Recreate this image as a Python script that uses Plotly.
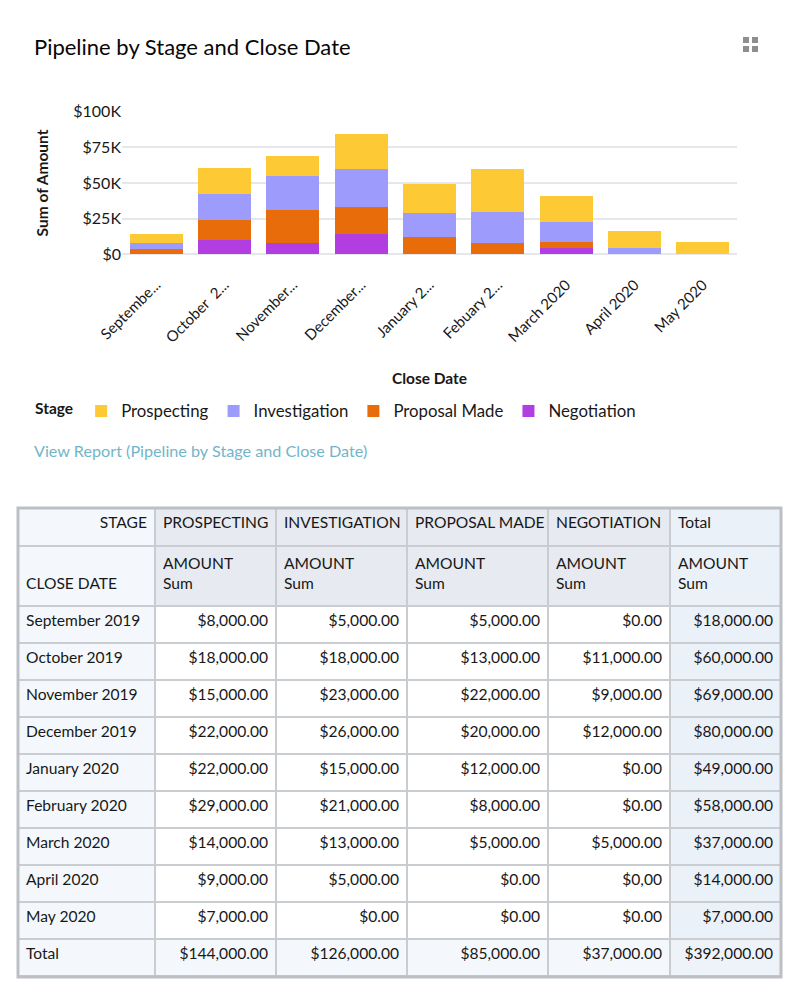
import plotly.graph_objects as go

W, H = 800, 997

# ---------------- chart data (in $) ----------------
axis_labels = ["Septembe...", "October  2...", "November...", "December...", "January 2...",
               "Febuary 2...", "March 2020", "April 2020", "May 2020"]
chart_prospecting = [6500, 18500, 14000, 25000, 20000, 30000, 18000, 11500, 8500]
chart_investigation = [4000, 18000, 24000, 26000, 17000, 22000, 14500, 4500, 0]
chart_proposal = [4000, 14000, 23000, 19000, 12000, 8000, 4000, 0, 0]
chart_negotiation = [0, 10000, 8000, 14500, 0, 0, 4500, 0, 0]

y_tick_vals = [0, 25000, 50000, 75000, 100000]
y_tick_text = ["$0", "$25K", "$50K", "$75K", "$100K"]

# ---------------- table data ----------------
table_months = ["September 2019", "October 2019", "November 2019", "December 2019", "January 2020",
                "February 2020", "March 2020", "April 2020", "May 2020"]
table_prospecting = [8000, 18000, 15000, 22000, 22000, 29000, 14000, 9000, 7000]
table_investigation = [5000, 18000, 23000, 26000, 15000, 21000, 13000, 5000, 0]
table_proposal = [5000, 13000, 22000, 20000, 12000, 8000, 5000, 0, 0]
table_negotiation = [0, 11000, 9000, 12000, 0, 0, 5000, 0, 0]
table_stage_headers = ["STAGE", "PROSPECTING", "INVESTIGATION", "PROPOSAL MADE", "NEGOTIATION", "Total"]
table_measure_headers = ["\u00a0<br>CLOSE DATE", "AMOUNT<br>Sum", "AMOUNT<br>Sum", "AMOUNT<br>Sum",
                         "AMOUNT<br>Sum", "AMOUNT<br>Sum"]
# text exactly as shown in the report (column index, row index) -> text
display_overrides = {(4, 7): "$0,00"}

COLORS = {"Prospecting": "#fdc935", "Investigation": "#9d9cfc",
          "Proposal Made": "#e96c0b", "Negotiation": "#b23ee2"}
FONT = "Lato, 'Open Sans', sans-serif"
TXT = "#181818"


def px_x(x):
    return x / W


def px_y(y):
    return 1 - y / H


def nowrap(s):
    # keep each table text on one line
    return s.replace(" ", "\u00a0")


fig = go.Figure()

series = [("Negotiation", chart_negotiation), ("Proposal Made", chart_proposal),
          ("Investigation", chart_investigation), ("Prospecting", chart_prospecting)]
for name, vals in series:
    fig.add_trace(go.Bar(x=axis_labels, y=vals, name=name, marker_color=COLORS[name],
                         marker_line_width=0))


def money(v):
    return "${:,.2f}".format(v)


row_totals = [a + b + c + d for a, b, c, d in zip(table_prospecting, table_investigation,
                                                   table_proposal, table_negotiation)]
value_cols = [table_prospecting, table_investigation, table_proposal, table_negotiation, row_totals]

columns = [[nowrap(m) for m in table_months] + ["Total"]]
for ci, col in enumerate(value_cols, start=1):
    texts = [money(v) for v in col] + [money(sum(col))]
    for (c, r), t in display_overrides.items():
        if c == ci:
            texts[r] = t
    columns.append(texts)

nrows = len(columns[0])
LIGHT = "#f4f8fd"
HEAD = "#e7ebf1"
TOTALCOL = "#ebf1f9"
LINE = dict(color="#c9ccd0", width=2)
TFONT = dict(family=FONT, size=15.6, color=TXT)
col_widths = [137, 121, 131, 141, 122, 111]

# header block (two header rows)
fig.add_trace(go.Table(
    domain=dict(x=[px_x(18), px_x(781)], y=[px_y(606), px_y(508)]),
    columnwidth=col_widths,
    header=dict(values=[nowrap(h) for h in table_stage_headers],
                align=["right", "left", "left", "left", "left", "left"],
                fill_color=[LIGHT, HEAD, HEAD, HEAD, HEAD, TOTALCOL],
                line=LINE, font=TFONT, height=38),
    cells=dict(values=[[nowrap(v).replace("\u00a0<br>\u00a0", "\u00a0<br>").replace("<br>\u00a0", "<br>")]
                       for v in table_measure_headers], align="left",
               fill_color=[LIGHT, HEAD, HEAD, HEAD, HEAD, TOTALCOL],
               line=LINE, font=TFONT, height=60),
))

# body block (first data row drawn as this block's header row)
body_fill = [[LIGHT] * (nrows - 1)]
for ci in range(1, 5):
    body_fill.append(["#ffffff"] * (nrows - 2) + [LIGHT])
body_fill.append([TOTALCOL] * (nrows - 2) + ["#eef3fa"])
fig.add_trace(go.Table(
    domain=dict(x=[px_x(18), px_x(781)], y=[px_y(978), px_y(606)]),
    columnwidth=col_widths,
    header=dict(values=[c[0] for c in columns],
                align=["left", "right", "right", "right", "right", "right"],
                fill_color=[LIGHT, "#ffffff", "#ffffff", "#ffffff", "#ffffff", TOTALCOL],
                line=LINE, font=TFONT, height=37),
    cells=dict(values=[c[1:] for c in columns],
               align=["left", "right", "right", "right", "right", "right"],
               fill_color=body_fill, line=LINE, font=TFONT, height=37),
))

shapes = []
# table outer frame
shapes.append(dict(type="rect", xref="paper", yref="paper", x0=px_x(18), x1=px_x(781),
                   y0=px_y(977), y1=px_y(508), line=dict(color="#bcbfc3", width=3),
                   fillcolor="rgba(0,0,0,0)", layer="above"))
# expand icon
for (x0, y0) in [(743, 37), (752, 37), (743, 46), (752, 46)]:
    shapes.append(dict(type="rect", xref="paper", yref="paper", x0=px_x(x0), x1=px_x(x0 + 6),
                       y0=px_y(y0 + 6), y1=px_y(y0), line=dict(width=0), fillcolor="#8e8e8e"))

annotations = [
    dict(text="Pipeline by Stage and Close Date", x=px_x(32), y=px_y(47), xref="paper", yref="paper",
         xanchor="left", yanchor="middle", showarrow=False,
         font=dict(family=FONT, size=22, color="#080707")),
    dict(text="View Report (Pipeline by Stage and Close Date)", x=px_x(32), y=px_y(450),
         xref="paper", yref="paper", xanchor="left", yanchor="middle", showarrow=False,
         font=dict(family=FONT, size=16.2, color="#72b5c9")),
]

fig.update_layout(
    width=W, height=H, margin=dict(l=0, r=0, t=0, b=0),
    paper_bgcolor="white", plot_bgcolor="white",
    barmode="stack", bargap=0.22,
    font=dict(family=FONT, color=TXT),
    xaxis=dict(domain=[px_x(122), px_x(737)], automargin=False, tickangle=-45,
               tickfont=dict(size=15, color=TXT), showgrid=False, showline=False,
               ticks="", ticklabelstandoff=18,
               title=dict(text="<b>Close Date</b>", font=dict(size=15.5, color=TXT),
                          standoff=28)),
    yaxis=dict(domain=[px_y(254.3), px_y(111.7)], automargin=False, range=[0, 100000],
               tickvals=y_tick_vals, ticktext=y_tick_text,
               tickfont=dict(size=16, color=TXT), gridcolor="#e4e8ed", gridwidth=1.5,
               zeroline=True, zerolinecolor="#e4e8ed", zerolinewidth=1.5, showline=False,
               ticks="", title=dict(text="<b>Sum of Amount</b>", font=dict(size=15.5, color=TXT),
                                     standoff=20)),
    legend=dict(orientation="h", x=px_x(33), y=px_y(411), xanchor="left", yanchor="middle",
                traceorder="reversed", font=dict(size=16.8, color=TXT),
                title=dict(text="<b>Stage</b>", font=dict(size=15.5, color=TXT)),
                itemclick=False),
    shapes=shapes, annotations=annotations, showlegend=True,
)

fig.write_html("out.html", config={"displayModeBar": False},
               post_script="document.body.style.margin='0';document.body.style.overflow='hidden';")
